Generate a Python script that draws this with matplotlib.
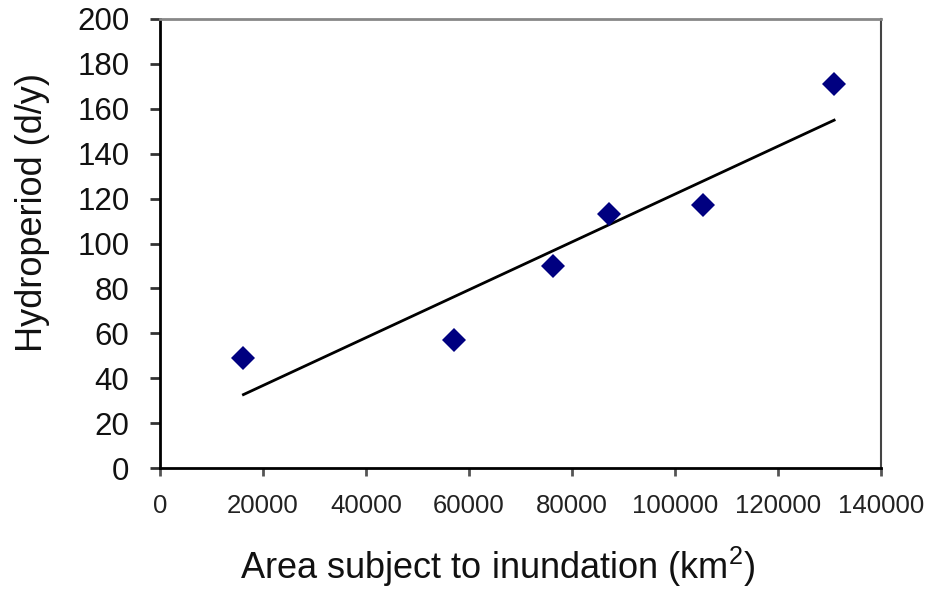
import numpy as np
import matplotlib
matplotlib.use("Agg")
import matplotlib.pyplot as plt

# data
area_km2 = [16200, 57100, 76400, 87200, 105500, 130900]
hydroperiod = [49, 57, 90, 113, 117, 171]

x_ticks = [0, 20000, 40000, 60000, 80000, 100000, 120000, 140000]
y_ticks = [0, 20, 40, 60, 80, 100, 120, 140, 160, 180, 200]

plt.rcParams["font.family"] = ["Liberation Sans", "DejaVu Sans"]
plt.rcParams["mathtext.fontset"] = "custom"
plt.rcParams["mathtext.rm"] = "Liberation Sans"

fig = plt.figure(figsize=(9.26, 5.90), dpi=100)
ax = fig.add_axes([160 / 926, 1 - 468 / 590, 721 / 926, 449 / 590])

# linear trend line (least squares) over data range
slope, intercept = np.polyfit(area_km2, hydroperiod, 1)
xl = np.array([min(area_km2), max(area_km2)])
ax.plot(xl, slope * xl + intercept, color="black", lw=2, zorder=2)

ax.plot(area_km2, hydroperiod, linestyle="none", marker="D", markersize=12,
        color="#000080", markeredgewidth=0, zorder=3)

ax.set_xlim(0, 140000)
ax.set_ylim(0, 200)
ax.set_xticks(x_ticks)
ax.set_yticks(y_ticks)
ax.set_xticklabels([str(v) for v in x_ticks], fontsize=18.5, color="#222222")
ax.set_yticklabels([str(v) for v in y_ticks], fontsize=22.5, color="#111111")
ax.tick_params(axis="x", direction="out", length=6, width=2, pad=13, color="#555555")
ax.tick_params(axis="y", direction="out", length=7, width=2, pad=15, color="#333333")

for side in ("left", "bottom"):
    ax.spines[side].set_color("black")
    ax.spines[side].set_linewidth(2)
ax.spines["top"].set_color("#888888")
ax.spines["top"].set_linewidth(2)
ax.spines["right"].set_color("#444444")
ax.spines["right"].set_linewidth(1.5)

fig.text(498 / 926, 1 - 579 / 590, r"Area subject to inundation (km$\mathregular{^2}$)",
         fontsize=26, ha="center", va="baseline", color="#111111")
fig.text(42 / 926, 1 - 213 / 590, "Hydroperiod (d/y)", fontsize=26,
         rotation=90, ha="center", va="baseline", rotation_mode="anchor",
         color="#111111")

fig.savefig("out.png", dpi=100)
